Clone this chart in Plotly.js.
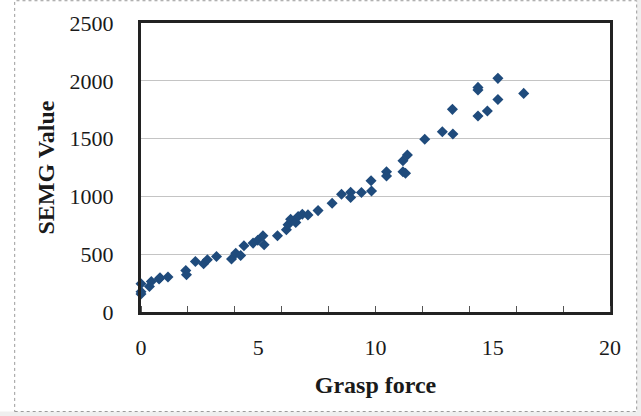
<!DOCTYPE html>
<html>
<head>
<meta charset="utf-8">
<script src="https://cdn.plot.ly/plotly-3.0.1.min.js"></script>
<style>html,body{margin:0;padding:0;background:#fff;}#chart{width:641px;height:416px;}</style>
</head>
<body>
<div id="chart"></div>
<script>
// Data
var graspForce = [0, 0, 0, 0.36, 0.44, 0.77, 0.81, 1.15, 1.91, 1.94, 2.32, 2.67, 2.83, 3.22, 3.86, 4.04, 4.25, 4.39, 4.78, 4.98, 5.20, 5.25, 5.82, 6.20, 6.27, 6.38, 6.60, 6.70, 6.88, 7.12, 7.55, 8.15, 8.55, 8.94, 8.94, 9.40, 9.83, 9.81, 10.47, 10.47, 11.17, 11.17, 11.28, 11.36, 12.10, 12.85, 13.30, 13.28, 14.37, 14.37, 14.37, 14.77, 15.22, 15.22, 16.32];
var semgValue  = [245, 175, 155, 221, 264, 285, 296, 302, 359, 322, 437, 417, 452, 480, 458, 509, 489, 573, 596, 620, 659, 581, 659, 711, 754, 803, 774, 826, 846, 840, 877, 941, 1019, 1036, 990, 1033, 1047, 1136, 1214, 1177, 1309, 1214, 1200, 1358, 1494, 1560, 1540, 1753, 1943, 1920, 1695, 1738, 2021, 1839, 1891];
var xTickVals = [0, 5, 10, 15, 20];
var yTickVals = [0, 500, 1000, 1500, 2000, 2500];
var xTitle = "Grasp force";
var yTitle = "SEMG Value";

var serif = "'Liberation Serif', 'Times New Roman', serif";

var trace = {
  x: graspForce,
  y: semgValue,
  type: "scatter",
  mode: "markers",
  cliponaxis: false,
  marker: {symbol: "diamond", size: 8.5, color: "#1f4b7c"},
  hoverinfo: "x+y"
};

// plot-area → paper helpers for the outer dotted frame
var L = 141.3, R = 610.3, T = 22.8, B = 312.3;
function px(v){ return (v - L) / (R - L); }
function py(v){ return (B - v) / (B - T); }

var layout = {
  width: 641, height: 416,
  margin: {l: L, r: 641 - R, t: T, b: 416 - B, pad: 0},
  paper_bgcolor: "#ffffff",
  plot_bgcolor: "#ffffff",
  showlegend: false,
  font: {family: serif, color: "#222222", size: 22},
  xaxis: {
    range: [0, 20],
    tickmode: "array", tickvals: xTickVals,
    ticks: "outside", ticklen: 0,
    minor: {dtick: 2, tick0: 0, ticks: "inside", ticklen: 6, tickcolor: "#555555", tickwidth: 1, showgrid: false},
    showgrid: false, zeroline: false,
    showline: true, mirror: true, linewidth: 3, linecolor: "#222222",
    tickfont: {family: serif, size: 22, color: "#1a1a1a"},
    ticklabelstandoff: 14,
    title: {text: xTitle, font: {family: serif, size: 24, color: "#1a1a1a", weight: "bold"}, standoff: 17},
    fixedrange: true
  },
  yaxis: {
    range: [0, 2500],
    tickmode: "array", tickvals: yTickVals,
    ticks: "outside", ticklen: 0,
    showgrid: true, gridcolor: "#c4c4c4", gridwidth: 1,
    zeroline: false,
    showline: true, mirror: true, linewidth: 3, linecolor: "#222222",
    tickfont: {family: serif, size: 22, color: "#1a1a1a"},
    ticklabelstandoff: 20,
    title: {text: yTitle, font: {family: serif, size: 24, color: "#1a1a1a", weight: "bold"}, standoff: 9},
    fixedrange: true
  },
  shapes: [
    {type: "rect", xref: "paper", yref: "paper", layer: "below",
     x0: px(637), x1: px(645), y0: py(-5), y1: py(420),
     fillcolor: "#efefef", line: {width: 0}},
    {type: "rect", xref: "paper", yref: "paper", layer: "below",
     x0: px(-5), x1: px(645), y0: py(420), y1: py(412),
     fillcolor: "#efefef", line: {width: 0}},
    {type: "rect", xref: "paper", yref: "paper", layer: "below",
     x0: px(15), x1: px(637), y0: py(412), y1: py(0.5),
     fillcolor: "rgba(0,0,0,0)", line: {width: 1, color: "#9a9a9a", dash: "dot"}}
  ]
};

Plotly.newPlot("chart", [trace], layout, {displayModeBar: false, staticPlot: true});
</script>
</body>
</html>
